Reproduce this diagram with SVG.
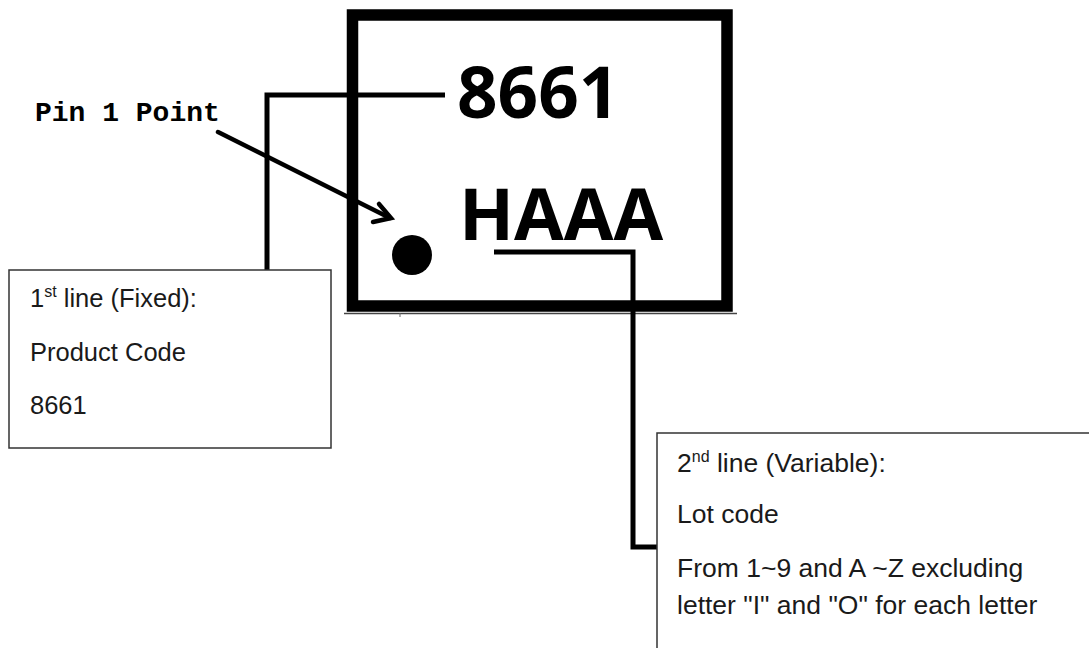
<svg xmlns="http://www.w3.org/2000/svg" width="1089" height="648" viewBox="0 0 1089 648">
<style>
.big{font-family:"Open Sans","Liberation Sans",sans-serif;font-weight:700;fill:#000}
.lbl{font-family:"Liberation Sans",Arial,sans-serif;font-size:25.5px;fill:#1a1a1a}
.lbl2{font-family:"Liberation Sans",Arial,sans-serif;font-size:26.5px;fill:#1a1a1a}
.sup{font-size:16px}
.mono{font-family:"Liberation Mono","Courier New",monospace;font-weight:700;font-size:28px;fill:#000}
.box{fill:#fff;stroke:#333;stroke-width:1.5}
.conn{fill:none;stroke:#000;stroke-width:5}
</style>
<rect width="1089" height="648" fill="#fff"/>
<g id="chip">
<rect x="352.5" y="15" width="374.5" height="291" fill="#fff" stroke="#000" stroke-width="11.5"/>
<line x1="344" y1="313.5" x2="737" y2="313.5" stroke="#444" stroke-width="1.5"/>
<line x1="400" y1="313" x2="400" y2="317" stroke="#666" stroke-width="1"/>
<text class="big" x="457" y="118" font-size="71">8661</text>
<text class="big" x="459" y="240" font-size="72">HAAA</text>
<circle cx="412" cy="255" r="20" fill="#000"/>
</g>
<g id="pin1">
<text class="mono" x="35" y="121">Pin 1 Point</text>
</g>
<g id="connectors">
<polyline class="conn" points="445,95 267,95 267,270"/>
<polyline class="conn" points="494,252 633,252 633,547 657,547"/>
<line x1="218" y1="132" x2="390" y2="218" stroke="#000" stroke-width="4.5" stroke-linecap="round"/>
<polyline points="379,204 391,218 373,222" fill="none" stroke="#000" stroke-width="4.5" stroke-linecap="round" stroke-linejoin="miter"/>
</g>
<g id="box1">
<rect class="box" x="9" y="270" width="322" height="178"/>
<text class="lbl" x="30" y="307">1<tspan class="sup" dy="-10">st</tspan><tspan dy="10"> line (Fixed):</tspan></text>
<text class="lbl" x="30" y="361">Product Code</text>
<text class="lbl" x="30" y="414">8661</text>
</g>
<g id="box2">
<rect class="box" x="657" y="433" width="440" height="230"/>
<text class="lbl2" x="677" y="472">2<tspan class="sup" dy="-10">nd</tspan><tspan dy="10"> line (Variable):</tspan></text>
<text class="lbl2" x="677" y="523">Lot code</text>
<text class="lbl2" x="677" y="577">From 1~9 and A ~Z excluding</text>
<text class="lbl2" x="677" y="614">letter "I" and "O" for each letter</text>
</g>
</svg>
